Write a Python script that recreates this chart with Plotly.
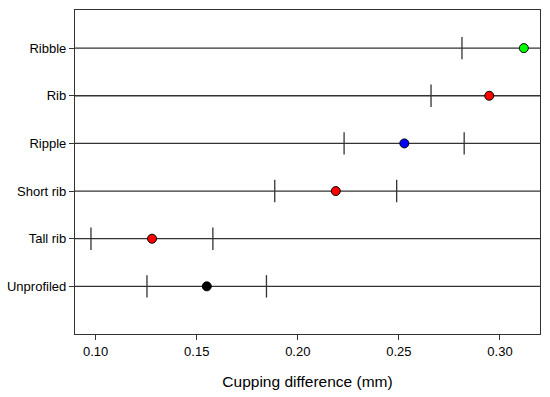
import plotly.graph_objects as go

categories = ["Ribble", "Rib", "Ripple", "Short rib", "Tall rib", "Unprofiled"]
estimate = [0.3118, 0.2947, 0.2527, 0.2188, 0.1279, 0.1550]
lower_ci = [0.2812, 0.2659, 0.2229, 0.1886, 0.0977, 0.1254]
upper_ci = [None, None, 0.2823, 0.2489, 0.1580, 0.1845]
point_colors = ["#00FF00", "#FF0000", "#0000FF", "#FF0000", "#FF0000", "#000000"]
x_ticks = [0.10, 0.15, 0.20, 0.25, 0.30]

n = len(categories)
ypos = [n - i for i in range(n)]

fig = go.Figure()

for y in ypos:
    fig.add_shape(type="line", xref="paper", x0=0, x1=1, yref="y", y0=y, y1=y,
                  line=dict(color="#333333", width=1.3), layer="below")

ci_x, ci_y = [], []
for y, lo, hi in zip(ypos, lower_ci, upper_ci):
    for v in (lo, hi):
        if v is not None:
            ci_x.append(v)
            ci_y.append(y)

fig.add_trace(go.Scatter(x=ci_x, y=ci_y, mode="markers", showlegend=False,
                         marker=dict(symbol="line-ns", size=16,
                                     line=dict(color="#333333", width=1.3)),
                         hoverinfo="skip"))

fig.add_trace(go.Scatter(x=estimate, y=ypos, mode="markers", showlegend=False,
                         marker=dict(size=9, color=point_colors,
                                     line=dict(color="#000000", width=1))))

fig.update_layout(
    width=550, height=397,
    margin=dict(l=75, r=10, t=10, b=63),
    paper_bgcolor="white", plot_bgcolor="white",
    font=dict(family="Liberation Sans, Arial, sans-serif", color="#000000"),
)
fig.update_xaxes(range=[0.0898, 0.3198], tickvals=x_ticks,
                 ticktext=[f"{v:.2f}" for v in x_ticks],
                 showgrid=False, zeroline=False, showline=True, mirror=True,
                 linecolor="#333333", linewidth=1.3,
                 ticks="outside", ticklen=5, tickcolor="#333333", tickwidth=1,
                 tickfont=dict(size=13), automargin=False,
                 title=dict(text="Cupping difference (mm)", font=dict(size=15.5), standoff=18))
fig.update_yaxes(range=[0, 6.8], tickvals=ypos, ticktext=categories,
                 showgrid=False, zeroline=False, showline=True, mirror=True,
                 linecolor="#333333", linewidth=1.3,
                 ticks="outside", ticklen=5, tickcolor="#333333", tickwidth=1.3,
                 tickfont=dict(size=13), automargin=False)

fig.write_html("out.html", config={"displayModeBar": False},
               post_script="document.body.style.margin='0';")
